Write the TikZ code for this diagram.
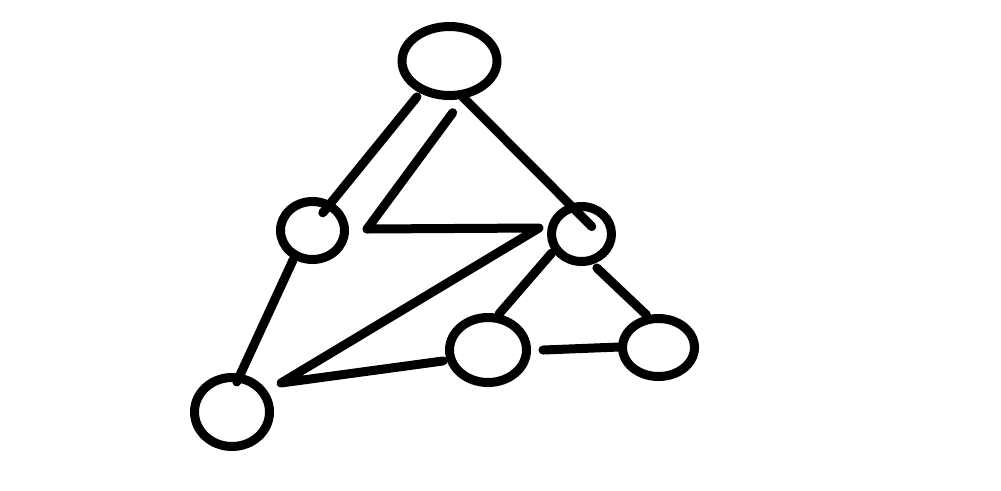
\documentclass[tikz,border=0pt]{standalone}
\usetikzlibrary{shapes.geometric}
\tikzset{vert/.style={draw,ellipse,line width=0.9mm,inner sep=0pt,outer sep=0pt},
	link/.style={line width=0.9mm,line cap=round,line join=round}}
\begin{document}
\begin{tikzpicture}[x=0.1mm,y=-0.1mm]
			\useasboundingbox (0,0) rectangle (1001,490);
			\node[vert,minimum width=9.5mm,minimum height=6.9mm] (top) at (449.5,61) {};
			\node[vert,minimum width=6.4mm,minimum height=5.8mm] (midl) at (312.5,230.5) {};
			\node[vert,minimum width=6.0mm,minimum height=5.5mm] (midr) at (581.5,234) {};
			\node[vert,minimum width=7.5mm,minimum height=6.9mm] (botl) at (232,412) {};
			\node[vert,minimum width=7.7mm,minimum height=6.5mm] (botm) at (488,350) {};
			\node[vert,minimum width=7.2mm,minimum height=5.8mm] (botr) at (658.5,347.5) {};
			\draw[link,shorten <=0.94mm,shorten >=-0.94mm] (top.227) -- (midl.57);
			\draw[link,shorten <=0.34mm,shorten >=-2.67mm] (top.288) -- (midr.108);
			\draw[link,shorten <=0.55mm,shorten >=-0.43mm] (midl.235) -- (botl.79);
			\draw[link,shorten <=0.63mm,shorten >=0.54mm] (midr.209) -- (botm.77);
			\draw[link,shorten <=1.07mm,shorten >=0.6mm] (midr.286) -- (botr.105);
			\draw[link,shorten <=1.65mm,shorten >=0.23mm] (botm.359) -- (botr.179);
			% the zigzag
			\coordinate (z1) at (452.7,112.7); \coordinate (z2) at (367,229);
			\coordinate (z3) at (539,228); \coordinate (z4) at (281,383);
			\draw[link,shorten >=0.83mm] (z1) -- (z2) -- (z3) -- (z4) -- (botm.195);
\end{tikzpicture}
\end{document}
